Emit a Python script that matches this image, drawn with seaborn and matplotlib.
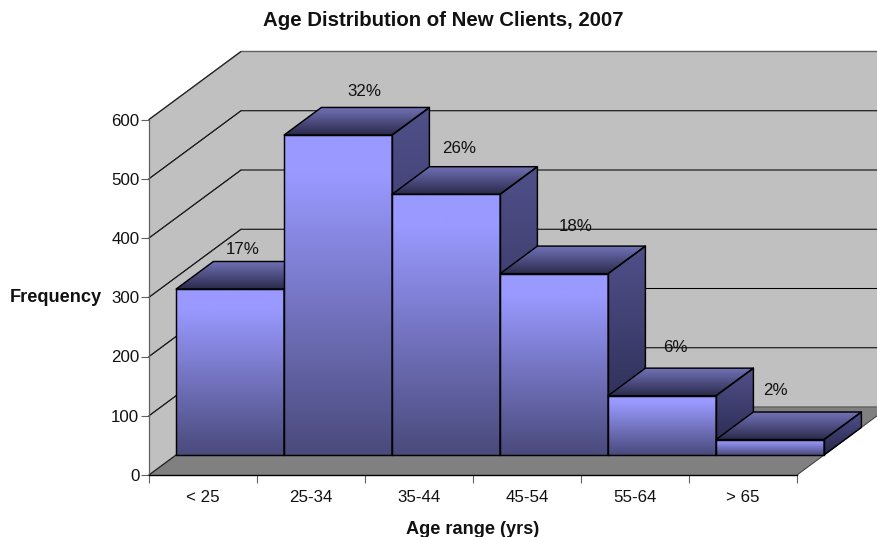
import numpy as np
import matplotlib
matplotlib.use("Agg")
import matplotlib.pyplot as plt
from matplotlib.colors import LinearSegmentedColormap
from matplotlib.patches import Polygon, Rectangle
import seaborn as sns

age_ranges = ["< 25", "25-34", "35-44", "45-54", "55-64", "> 65"]
frequency = [280, 540, 440, 306, 100, 26]
share_labels = ["17%", "32%", "26%", "18%", "6%", "2%"]
y_ticks = [0, 100, 200, 300, 400, 500, 600]

sns.set_theme(style="white")
plt.rcParams["font.family"] = ["Liberation Sans", "DejaVu Sans"]

W, H = 877, 537
fig = plt.figure(figsize=(W / 100, H / 100), dpi=100, facecolor="white")
ax = fig.add_axes([149 / W, (H - 475) / H, 648 / W, 355.5 / H])

# Oblique projection: depth runs 0 (front) to 1 (back wall), in data units
DEPTH_X = 92 / 108
DEPTH_Y = 68 / 355.5 * 600
BAR_NEAR, BAR_FAR = 0.295, 0.70
X_MIN, X_MAX = -0.5, 5.5
Y_MAX = 600


def project(x, v, d=0.0):
    return (x + d * DEPTH_X, v + d * DEPTH_Y)


def face(points, **kw):
    poly = Polygon([project(*p) for p in points], closed=True, clip_on=False, **kw)
    ax.add_patch(poly)
    return poly


def ramp(name, stops):
    return LinearSegmentedColormap.from_list(name, stops)


FRONT = ramp("front", [(0, "#4A4A7C"), (0.88, "#9999FF"), (1, "#9999FF")])
SIDE = ramp("side", [(0, "#26264A"), (1, "#50508A")])
TOP = ramp("top", [(0, "#2A2A4C"), (1, "#7272B8")])


def shade(poly, cmap, z):
    """Fill a face with a vertical colour ramp, clipped to its outline."""
    xy = poly.get_xy()
    extent = (xy[:, 0].min(), xy[:, 0].max(), xy[:, 1].min(), xy[:, 1].max())
    grad = np.linspace(1, 0, 128).reshape(-1, 1)
    im = ax.imshow(grad, cmap=cmap, vmin=0, vmax=1, extent=extent, aspect="auto",
                   zorder=z, interpolation="bilinear")
    im.set_clip_box(fig.bbox)
    im.set_clip_path(poly)


# Front faces come from the bar plot; they are slid back onto the floor below
sns.barplot(x=age_ranges, y=frequency, width=1.0, color="#9999FF", saturation=1,
            ax=ax, zorder=3)
bars = [p for p in ax.patches if isinstance(p, Rectangle)]

# Walls and floor
face([(X_MIN, 0, 1), (X_MAX, 0, 1), (X_MAX, Y_MAX, 1), (X_MIN, Y_MAX, 1)],
     facecolor="#C0C0C0", edgecolor="none", zorder=1)
face([(X_MIN, 0, 0), (X_MIN, 0, 1), (X_MIN, Y_MAX, 1), (X_MIN, Y_MAX, 0)],
     facecolor="#C0C0C0", edgecolor="none", zorder=1)
face([(X_MIN, 0, 0), (X_MAX, 0, 0), (X_MAX, 0, 1), (X_MIN, 0, 1)],
     facecolor="#808080", edgecolor="none", zorder=1)

# Gridlines wrap from the left wall onto the back wall
for v in y_ticks:
    pts = [project(X_MIN, v, 0), project(X_MIN, v, 1), project(X_MAX, v, 1)]
    xs, ys = zip(*pts)
    colour = "#606060" if v in (0, Y_MAX) else "black"
    ax.plot(xs, ys, color=colour, lw=1.0 if v in (0, Y_MAX) else 0.75,
            zorder=2, clip_on=False)
    ax.plot(xs[:2], ys[:2], color="#202020", lw=0.75, zorder=2, clip_on=False)
x_edge, y_edge = zip(project(X_MAX, 0, 0), project(X_MAX, 0, 1))
ax.plot(x_edge, y_edge, color="#404040", lw=0.75, zorder=2, clip_on=False)

EDGE = dict(edgecolor="black", linewidth=1.05, joinstyle="round")
for i, bar in enumerate(bars):
    z = 10 + i * 10
    x0, x1 = bar.get_x(), bar.get_x() + bar.get_width()
    v = bar.get_height()
    near_x, near_y = project(x0, 0, BAR_NEAR)
    bar.set_xy((near_x, near_y))
    bar.set_clip_on(False)
    bar.set_facecolor("none")
    bar.set(zorder=z + 1, **EDGE)

    front_outline = face([(x0, 0, BAR_NEAR), (x1, 0, BAR_NEAR),
                          (x1, v, BAR_NEAR), (x0, v, BAR_NEAR)],
                         facecolor="none", edgecolor="none", zorder=z)
    shade(front_outline, FRONT, z)

    top = face([(x0, v, BAR_NEAR), (x1, v, BAR_NEAR), (x1, v, BAR_FAR), (x0, v, BAR_FAR)],
               facecolor="none", edgecolor="none", zorder=z)
    shade(top, TOP, z)
    face([(x0, v, BAR_NEAR), (x1, v, BAR_NEAR), (x1, v, BAR_FAR), (x0, v, BAR_FAR)],
         facecolor="none", zorder=z + 1, **EDGE)

    side = face([(x1, 0, BAR_NEAR), (x1, 0, BAR_FAR), (x1, v, BAR_FAR), (x1, v, BAR_NEAR)],
                facecolor="none", edgecolor="none", zorder=z)
    shade(side, SIDE, z)
    face([(x1, 0, BAR_NEAR), (x1, 0, BAR_FAR), (x1, v, BAR_FAR), (x1, v, BAR_NEAR)],
         facecolor="none", zorder=z + 1, **EDGE)

# Percent labels float above the back edge of each bar top
nudges = [(13, 40), (26, 43), (13, 46), (22, 47), (13, 48), (5, 49)]
for i, (label, v, (dx, dy)) in enumerate(zip(share_labels, frequency, nudges)):
    ax.annotate(label, xy=project(i, v, BAR_NEAR), xytext=(dx * 0.72, dy * 0.72),
                textcoords="offset points", ha="center", va="center",
                fontsize=12.2, color="#111111", zorder=200, annotation_clip=False)

ax.set_xlim(X_MIN, X_MAX)
ax.set_ylim(0, Y_MAX)
ax.set_yticks(y_ticks)
ax.set_xticks(range(len(age_ranges)))
ax.set_xticklabels(age_ranges)
ax.set_xticks(np.arange(X_MIN, X_MAX + 1), minor=True)
ax.tick_params(axis="x", which="major", length=0, pad=10.5, labelsize=12.2, colors="#111111")
ax.tick_params(axis="x", which="minor", bottom=True, length=5.5, width=0.8, color="#606060")
ax.tick_params(axis="y", left=True, length=5.5, width=0.8, color="#606060", pad=1.5,
               labelsize=12.2, labelcolor="#111111")

sns.despine(ax=ax, top=True, right=True)
ax.spines["left"].set(color="#606060", linewidth=0.9, zorder=5)
ax.spines["bottom"].set(color="black", linewidth=1.0, zorder=5)
ax.patch.set_alpha(0)

ax.set_xlabel("Age range (yrs)", fontsize=13.1, fontweight="bold", color="#111111", va="center")
ax.xaxis.set_label_coords(0.5, -0.154)
ax.set_ylabel("Frequency", rotation=0, ha="right", va="center",
              fontsize=13.1, fontweight="bold", color="#111111")
ax.yaxis.set_label_coords(-0.0725, 0.5)

fig.text(443.5 / W, 1 - 20 / H, "Age Distribution of New Clients, 2007", ha="center",
         va="center", fontsize=14.7, fontweight="bold", color="#111111")

fig.savefig("out.png", dpi=100, facecolor="white")
